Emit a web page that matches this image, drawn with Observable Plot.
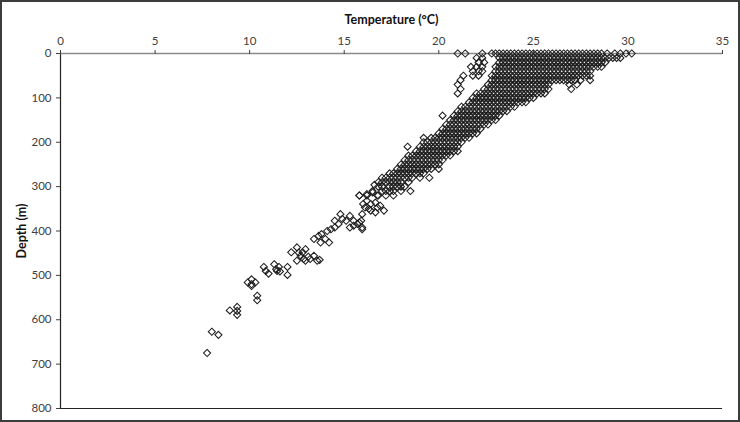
<!DOCTYPE html>
<html>
<head>
<meta charset="utf-8">
<script src="https://cdn.jsdelivr.net/npm/d3@7"></script>
<script src="https://cdn.jsdelivr.net/npm/@observablehq/plot@0.6"></script>
<style>
  html, body { margin: 0; padding: 0; background: #fff; }
  #chart svg { display: block; outline: 2px solid #3c3c3c; outline-offset: -2px; }
  #chart [aria-label="x-axis label"] text,
  #chart [aria-label="y-axis label"] text { font-weight: bold; font-size: 12.5px; fill: #111; }
</style>
</head>
<body>
<div id="chart"></div>
<script>
// Axis ticks
const xTicks = [0, 5, 10, 15, 20, 25, 30, 35];
const yTicks = [0, 100, 200, 300, 400, 500, 600, 700, 800];

// Dense profile readings, grouped by depth (m) -> temperatures (°C)
const rowDepths = [0, 10, 20, 30, 40, 50, 60, 70, 80, 90, 100, 110, 120, 130, 140, 150, 160, 170, 180, 190, 200, 210, 220, 230, 240, 250, 260, 270, 280, 290, 300, 310, 320];
const rowTemps = [
  [21,21.4,22.3,22.8,23,23.2,23.4,23.6,23.8,24,24.2,24.4,24.6,24.8,25,25.2,25.4,25.6,25.8,26,26.2,26.4,26.6,26.8,27,27.2,27.4,27.6,27.8,28,28.2,28.4,28.6,28.9,29.3,29.6,29.9,30.2],
  [22,22.3,23.2,23.4,23.6,23.8,24,24.2,24.4,24.6,24.8,25,25.2,25.4,25.6,25.8,26,26.2,26.4,26.6,26.8,27,27.2,27.4,27.6,27.8,28,28.2,28.4,28.6,28.8,29,29.2,29.4,29.6],
  [22.1,22.4,23.2,23.4,23.6,23.8,24,24.2,24.4,24.6,24.8,25,25.2,25.4,25.6,25.8,26,26.2,26.4,26.6,26.8,27,27.2,27.4,27.6,27.8,28,28.2,28.4,28.6,28.8],
  [21.7,22,22.3,23,23.2,23.4,23.6,23.8,24,24.2,24.4,24.6,24.8,25,25.2,25.4,25.6,25.8,26,26.2,26.4,26.6,26.8,27,27.2,27.4,27.6,27.8,28,28.2,28.4,28.6],
  [21.8,22.1,22.3,23,23.2,23.4,23.6,23.8,24,24.2,24.4,24.6,24.8,25,25.2,25.4,25.6,25.8,26,26.2,26.4,26.6,26.8,27,27.2,27.4,27.6,27.8,28],
  [21.3,21.8,22.1,22.8,23,23.2,23.4,23.6,23.8,24,24.2,24.4,24.6,24.8,25,25.2,25.4,25.6,25.8,26,26.2,26.4,26.6,26.8,27,27.2,27.4,27.6,27.8,28],
  [21.15,22.8,23,23.2,23.4,23.6,23.8,24,24.2,24.4,24.6,24.8,25,25.2,25.4,25.6,25.8,26,26.2,26.4,26.6,26.8,27,27.2,27.5,28],
  [21,22.6,22.8,23,23.2,23.4,23.6,23.8,24,24.2,24.4,24.6,24.8,25,25.2,25.4,25.6,25.8,26.9,27.3],
  [21.15,22.4,22.6,22.8,23,23.2,23.4,23.6,23.8,24,24.2,24.4,24.6,24.8,25,25.2,25.4,25.6,25.8,27],
  [21,22,22.2,22.4,22.6,22.8,23,23.2,23.4,23.6,23.8,24,24.2,24.4,24.6,24.8,25,25.2,25.4,25.6],
  [21.8,22,22.2,22.4,22.6,22.8,23,23.2,23.4,23.6,23.8,24,24.2,24.4,24.6,24.8,25],
  [21.6,21.8,22,22.2,22.4,22.6,22.8,23,23.2,23.4,23.6,23.8,24,24.2,24.4,24.6],
  [21.2,21.4,21.6,21.8,22,22.2,22.4,22.6,22.8,23,23.2,23.4,23.6,23.8,24],
  [21,21.2,21.4,21.6,21.8,22,22.2,22.4,22.6,22.8,23,23.2,23.4,23.6],
  [20.2,20.8,21,21.2,21.4,21.6,21.8,22,22.2,22.4,22.6,22.8,23,23.2],
  [20.6,20.8,21,21.2,21.4,21.6,21.8,22,22.2,22.4,22.6,22.8,23],
  [20.4,20.6,20.8,21,21.2,21.4,21.6,21.8,22,22.2,22.4,22.6],
  [20.2,20.4,20.6,20.8,21,21.2,21.4,21.6,21.8,22,22.2],
  [20,20.2,20.4,20.6,20.8,21,21.2,21.4,21.6,21.8,22],
  [19.2,19.6,19.8,20,20.2,20.4,20.6,20.8,21,21.2,21.4,21.6],
  [19.2,19.4,19.6,19.8,20,20.2,20.4,20.6,20.8,21,21.2],
  [18.35,19,19.2,19.4,19.6,19.8,20,20.2,20.4,20.6,20.8,21],
  [18.8,19,19.2,19.4,19.6,19.8,20,20.2,20.4,20.6,20.8,21],
  [18.4,18.6,18.8,19,19.2,19.4,19.6,19.8,20,20.2,20.4,20.6],
  [18.2,18.4,18.6,18.8,19,19.2,19.4,19.6,19.8,20,20.2],
  [18,18.2,18.4,18.6,18.8,19,19.2,19.4,19.6,19.8,20],
  [17.8,18,18.2,18.4,18.6,18.8,19,19.2,19.4,19.6,20],
  [17.4,17.6,17.8,18,18.2,18.4,18.6,18.8,19,19.2],
  [17,17.2,17.4,17.6,17.8,18,18.2,18.4,18.6,19,19.5],
  [16.8,17,17.2,17.4,17.6,17.8,18,18.4],
  [16.8,17,17.4,17.6,17.8,18,18.2],
  [16.5,17,17.2,17.4,17.6,18,18.5],
  [15.8,16.2,16.8,17.2,17.6]
];

// Scattered deeper readings
const spotDepth = [296,313,317,320,320,332,336,339,339,343,347,347,350,354,354,358,362,362,366,373,377,377,377,377,381,384,384,388,392,392,392,396,396,400,407,411,418,418,426,426,437,441,448,448,449,456,456,458,463,463,465,467,467,467,475,481,481,481,486,490,490,491,496,499,509,516,516,520,524,546,556,571,579,580,589,627,634,675];
const spotTemp = [16.6,16.5,16.2,15.8,16.75,16.2,16.65,16.4,16.0,16.9,16.75,16.1,16.3,16.4,17.1,16.65,14.8,15.95,15.3,14.9,14.5,15.1,15.5,15.9,15.8,14.7,15.7,15.5,14.5,15.3,15.95,14.3,15.95,14.1,13.8,13.65,13.4,14.0,13.75,14.2,12.5,12.95,12.2,12.8,12.6,12.7,13.4,13.1,13.2,12.85,13.7,12.5,12.95,13.57,11.3,10.75,11.55,12.0,11.4,10.85,11.45,11.6,11.0,12.0,10.1,9.9,10.3,10.1,10.1,10.4,10.4,9.34,8.95,9.34,9.34,8.0,8.35,7.75];

const points = [];
rowDepths.forEach((d, i) => rowTemps[i].forEach(t => points.push({t, d})));
spotDepth.forEach((d, i) => points.push({t: spotTemp[i], d}));

const chart = Plot.plot({
  width: 740,
  height: 422,
  marginTop: 53,
  marginLeft: 60,
  marginRight: 18,
  marginBottom: 14,
  style: { fontFamily: "Lato, 'Open Sans', sans-serif", fontSize: "11.5px", color: "#404040", background: "#fff" },
  x: { domain: [0, 35] },
  y: { domain: [0, 800], reverse: true },
  marks: [
    Plot.ruleY([800], { stroke: "#222", strokeWidth: 1.2 }),
    Plot.ruleX([0], { stroke: "#222", strokeWidth: 1.2 }),
    Plot.ruleY([0], { stroke: "#8a8a8a", strokeWidth: 1.5 }),
    Plot.axisX({ anchor: "top", ticks: xTicks, tickSize: 4, tickPadding: 5, label: "Temperature (°C)", labelAnchor: "center", labelOffset: 38, labelArrow: "none" }),
    Plot.axisY({ anchor: "left", ticks: yTicks, tickSize: 4, tickPadding: 5, label: "Depth (m)", labelAnchor: "center", labelOffset: 43, labelArrow: "none" }),
    Plot.dot(points, { x: "t", y: "d", symbol: "diamond2", r: 3.2, stroke: "#1e1e1e", strokeWidth: 1.05, fill: "none" })
  ]
});
document.getElementById("chart").appendChild(chart);
</script>
</body>
</html>
